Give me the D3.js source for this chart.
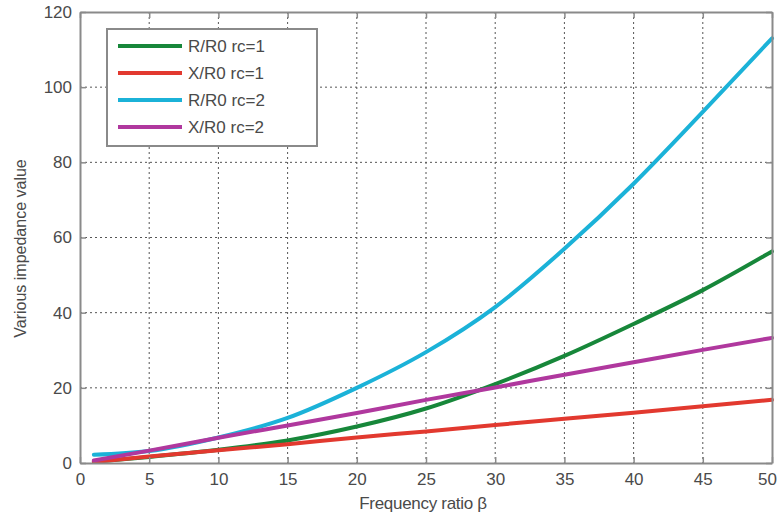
<!DOCTYPE html>
<html>
<head>
<meta charset="utf-8">
<script src="https://cdn.jsdelivr.net/npm/d3@7"></script>
<style>
  html, body { margin: 0; padding: 0; background: #fff; }
  svg { display: block; font-family: "Liberation Sans", Arial, sans-serif; }
</style>
</head>
<body>
<svg id="chart" width="778" height="518"></svg>
<script>
// Frequency ratio samples
const beta = [1, 5, 10, 15, 20, 25, 30, 35, 40, 45, 50];
// Normalised impedance components
const rR0rc1 = [0.3, 1.6, 3.5, 6.0, 9.7, 14.5, 21.0, 28.5, 37.0, 46.0, 56.3];
const xR0rc1 = [0.33, 1.7, 3.4, 5.0, 6.8, 8.4, 10.1, 11.8, 13.4, 15.1, 16.8];
const rR0rc2 = [2.2, 3.2, 6.8, 12.0, 20.0, 29.5, 41.5, 57.0, 74.3, 93.4, 113.0];
const xR0rc2 = [0.67, 3.3, 6.7, 10.0, 13.3, 16.8, 20.1, 23.5, 26.8, 30.1, 33.3];

const seriesNames = ["R/R0 rc=1", "X/R0 rc=1", "R/R0 rc=2", "X/R0 rc=2"];
const seriesValues = [rR0rc1, xR0rc1, rR0rc2, xR0rc2];
const seriesColors = ["#17873a", "#e2392f", "#1bb2d8", "#b0389e"];

const xTicks = [0, 5, 10, 15, 20, 25, 30, 35, 40, 45, 50];
const yTicks = [0, 20, 40, 60, 80, 100, 120];

const svg = d3.select("#chart");
const plotLeft = 80, plotRight = 772, plotTop = 12, plotBottom = 463;

const x = d3.scaleLinear().domain([0, 50]).range([plotLeft, plotRight]);
const y = d3.scaleLinear().domain([0, 120]).range([plotBottom, plotTop]);

const textColor = "#4a4a4a";
const fontSize = 17;

// Dotted grid
const grid = svg.append("g");
grid.selectAll("line.v").data(xTicks.slice(1, -1)).join("line")
  .attr("class", "v")
  .attr("x1", d => x(d)).attr("x2", d => x(d))
  .attr("y1", plotTop).attr("y2", plotBottom)
  .attr("stroke", "#555").attr("stroke-width", 1).attr("stroke-dasharray", "2,3");
grid.selectAll("line.h").data(yTicks.slice(1, -1)).join("line")
  .attr("class", "h")
  .attr("x1", plotLeft).attr("x2", plotRight)
  .attr("y1", d => y(d)).attr("y2", d => y(d))
  .attr("stroke", "#555").attr("stroke-width", 1).attr("stroke-dasharray", "2,3");

// Curves
const line = d3.line()
  .x((d, i) => x(beta[i]))
  .y(d => y(d))
  .curve(d3.curveMonotoneX);

svg.append("g").selectAll("path").data(seriesValues).join("path")
  .attr("d", d => line(d))
  .attr("fill", "none")
  .attr("stroke", (d, i) => seriesColors[i])
  .attr("stroke-width", 4)
  .attr("stroke-linejoin", "round")
  .attr("stroke-linecap", "round");

// Axes (MATLAB style: inward ticks, boxed)
const axisColor = "#8a8a8a";
const xAxis = svg.append("g").attr("transform", `translate(0,${plotBottom})`)
  .call(d3.axisBottom(x).tickValues(xTicks).tickSizeInner(-6).tickSizeOuter(0).tickPadding(10));
const yAxis = svg.append("g").attr("transform", `translate(${plotLeft},0)`)
  .call(d3.axisLeft(y).tickValues(yTicks).tickSizeInner(-6).tickSizeOuter(0).tickPadding(8));
const xTopAxis = svg.append("g").attr("transform", `translate(0,${plotTop})`)
  .call(d3.axisTop(x).tickValues(xTicks).tickSizeInner(-6).tickSizeOuter(0).tickFormat(""));
const yRightAxis = svg.append("g").attr("transform", `translate(${plotRight},0)`)
  .call(d3.axisRight(y).tickValues(yTicks).tickSizeInner(-6).tickSizeOuter(0).tickFormat(""));

[xAxis, yAxis, xTopAxis, yRightAxis].forEach(g => {
  g.select(".domain").attr("stroke", axisColor).attr("stroke-width", 2);
  g.selectAll(".tick line").attr("stroke", axisColor).attr("stroke-width", 1.5);
  g.selectAll(".tick text").attr("fill", textColor).attr("font-size", fontSize)
    .attr("font-family", "Liberation Sans, Arial, sans-serif");
});
// keep the last x label inside the page edge
xAxis.selectAll(".tick text").filter(d => d === 50).attr("dx", -5);

// Axis titles
svg.append("text")
  .attr("x", 423).attr("y", 509)
  .attr("text-anchor", "middle")
  .attr("fill", textColor).attr("font-size", fontSize)
  .attr("letter-spacing", "-0.3px")
  .text("Frequency ratio β");

svg.append("text")
  .attr("transform", `translate(26,${(plotTop + plotBottom) / 2 + 11}) rotate(-90)`)
  .attr("text-anchor", "middle")
  .attr("fill", textColor).attr("font-size", 16)
  .text("Various impedance value");

// Legend
const lg = svg.append("g");
lg.append("rect")
  .attr("x", 107).attr("y", 29).attr("width", 210).attr("height", 117)
  .attr("fill", "#fff").attr("stroke", axisColor).attr("stroke-width", 2);
const rowY = [46, 73, 100, 127];
const rows = lg.selectAll("g.row").data(seriesNames).join("g")
  .attr("class", "row")
  .attr("transform", (d, i) => `translate(0,${rowY[i]})`);
rows.append("line")
  .attr("x1", 118).attr("x2", 182).attr("y1", 0).attr("y2", 0)
  .attr("stroke", (d, i) => seriesColors[i]).attr("stroke-width", 4);
rows.append("text")
  .attr("x", 188).attr("y", 6)
  .attr("fill", textColor).attr("font-size", fontSize)
  .text(d => d);
</script>
</body>
</html>
